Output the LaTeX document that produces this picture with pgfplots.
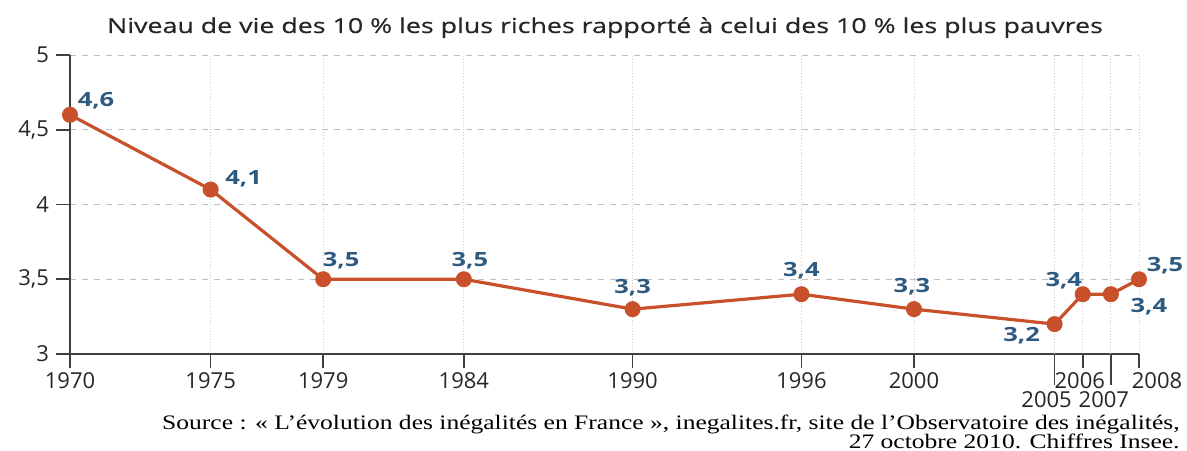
\documentclass[border=0pt]{standalone}
\usepackage{fontspec}
\usepackage{pgfplots}
\usepackage{pgfplotstable}
\pgfplotsset{compat=1.18}
\setmainfont{Liberation Serif}
\newfontfamily\srcfont[FakeStretch=1.24]{Liberation Serif}
\newfontfamily\tickfont{Open Sans}
\newfontfamily\titlefont[FakeStretch=1.3,FakeBold=0.5]{Open Sans}
\newfontfamily\labfont[FakeStretch=1.3]{Open Sans}
\definecolor{lineorange}{HTML}{C8502A}
\definecolor{labblue}{HTML}{2E5A80}

\pgfplotstableread{
x y lab dx dy
1970 4.6 {4,6} 13 7
1975 4.1 {4,1} 16.5 5.5
1979 3.5 {3,5} 9 9.5
1984 3.5 {3,5} 3 9.5
1990 3.3 {3,3} 0 10.5
1996 3.4 {3,4} 0 12
2000 3.3 {3,3} -1 11
2005 3.2 {3,2} -16.5 -6
2006 3.4 {3,4} -9.5 7
2007 3.4 {3,4} 19 -6
2008 3.5 {3,5} 13 7
}\data

\begin{document}
\begin{tikzpicture}
\useasboundingbox (-35pt,-48pt) rectangle (558.5pt,177pt);
\begin{axis}[
  scale only axis, width=534.5pt, height=149.5pt,
  xmin=1970, xmax=2008, ymin=3, ymax=5,
  axis lines=left,
  axis line style={-, draw=black!75, line width=0.8pt},
  xtick={1970,1975,1979,1984,1990,1996,2000,2006,2008},
  xticklabels={1970,1975,1979,1984,1990,1996,2000,{2006\hspace*{3pt}},{\hspace*{18pt}2008}},
  extra x ticks={2005,2007},
  extra x tick labels={{2005\hspace*{8pt}},{2007\hspace*{7pt}}},
  extra x tick style={major tick length=15.5pt, grid=major, xticklabel style={yshift=-1pt}},
  ytick={3,3.5,4,4.5,5},
  yticklabels={3,{3,5},4,{4,5},5},
  tick align=outside,
  major tick length=7pt,
  tick style={draw=black!75, line width=0.8pt},
  xmajorgrids, ymajorgrids,
  x grid style={densely dotted, black!20},
  y grid style={dashed, black!25},
  ticklabel style={font=\tickfont\fontsize{11}{12}\selectfont, text=black!85},
  xticklabel style={inner sep=0.8pt, yshift=-1.5pt},
  clip=false,
]
\addplot[lineorange, line width=1.6pt, mark=*, mark size=3.2pt,
  mark options={fill=lineorange, draw=lineorange},
  point meta=explicit symbolic,
  visualization depends on={\thisrow{dx} \as \dx},
  visualization depends on={\thisrow{dy} \as \dy},
  nodes near coords={\labfont\bfseries\fontsize{9.8}{10}\selectfont\pgfplotspointmeta},
  nodes near coords style={anchor=center, xshift=\dx pt, yshift=\dy pt, text=labblue},
] table[x=x, y=y, meta=lab] {\data};
\end{axis}
\node[anchor=base, font=\titlefont\fontsize{10.3}{12}\selectfont, text=black!85] at (267.5pt,160.5pt)
  {Niveau de vie des 10 \% les plus riches rapporté à celui des 10 \% les plus pauvres};
\node[anchor=base east, font=\srcfont\fontsize{10.3}{12}\selectfont, inner sep=0pt] at (555pt,-37.5pt)
  {Source : « L’évolution des inégalités en France », inegalites.fr, site de l’Observatoire des inégalités,};
\node[anchor=base east, font=\srcfont\fontsize{10.3}{12}\selectfont, inner sep=0pt] at (555pt,-47pt)
  {27 octobre 2010. Chiffres Insee.};
\end{tikzpicture}
\end{document}
